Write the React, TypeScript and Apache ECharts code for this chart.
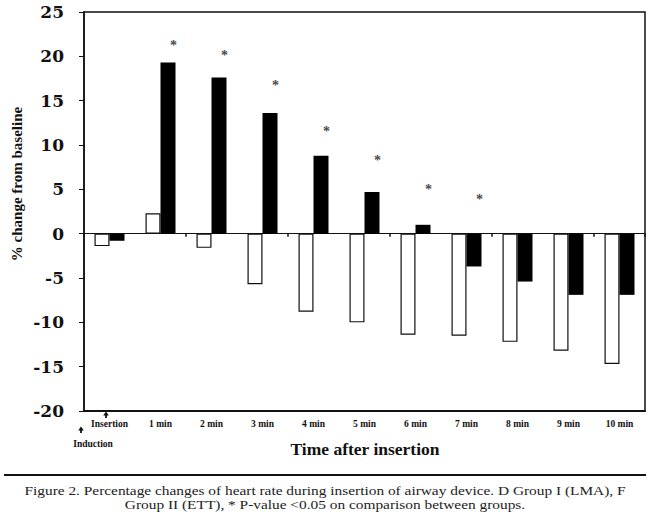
import React, { useEffect, useRef } from "react";
import * as echarts from "echarts";

const categories = ["Insertion", "1 min", "2 min", "3 min", "4 min", "5 min", "6 min", "7 min", "8 min", "9 min", "10 min"];
const groupI = [-1.4, 2.3, -1.6, -5.7, -8.8, -10.0, -11.4, -11.5, -12.2, -13.2, -14.7];
const groupII = [-0.8, 19.3, 17.6, 13.6, 8.8, 4.7, 1.0, -3.7, -5.4, -6.9, -6.9];
const asteriskHeights = [null, 21.3, 20.2, 16.8, 11.6, 8.4, 5.1, 4.0, null, null, null];
const captionLines = [
  "Figure 2. Percentage changes of heart rate during insertion of airway device. D Group I (LMA), F",
  "Group II (ETT), * P-value <0.05 on comparison between groups.",
];

const SERIF = "'Liberation Serif', 'Times New Roman', serif";

function arrow(x: number, yTop: number, len: number) {
  return [
    { type: "line", shape: { x1: x, y1: yTop + 2, x2: x, y2: yTop + len }, style: { stroke: "#111", lineWidth: 1.8 } },
    { type: "polygon", shape: { points: [[x - 2.8, yTop + 3.5], [x + 2.8, yTop + 3.5], [x, yTop - 0.5]] }, style: { fill: "#111" } },
  ];
}

export default function App() {
  const ref = useRef<HTMLDivElement>(null);
  useEffect(() => {
    document.body.style.margin = "0";
    const chart = echarts.init(ref.current!, null, { renderer: "svg" });
    chart.setOption({
      animation: false,
      backgroundColor: "#fff",
      grid: { left: 84, right: 5, top: 12, bottom: 109, show: true, borderColor: "#111", borderWidth: 1.5, backgroundColor: "transparent" },
      xAxis: [
        {
          type: "category",
          data: categories,
          position: "bottom",
          axisLine: { onZero: false, lineStyle: { color: "#111", width: 2 } },
          axisTick: { show: false },
          axisLabel: { interval: 0, margin: 8, fontFamily: SERIF, fontWeight: "bold", fontSize: 9.5, color: "#111" },
        },
        {
          type: "category",
          data: categories,
          position: "bottom",
          axisLine: { onZero: true, lineStyle: { color: "#111", width: 1 } },
          axisTick: { show: true, length: 3, lineStyle: { color: "#111", width: 1.5 } },
          axisLabel: { show: false },
        },
      ],
      yAxis: {
        type: "value",
        min: -20,
        max: 25,
        interval: 5,
        splitLine: { show: false },
        axisLine: { show: true, lineStyle: { color: "#111", width: 1.5 } },
        axisTick: { show: true, length: 5, lineStyle: { color: "#111" } },
        axisLabel: { margin: 20, fontFamily: "'DejaVu Serif', serif", fontWeight: "bold", fontSize: 17, color: "#111" },
      },
      series: [
        {
          name: "Group I (LMA)",
          type: "bar",
          data: groupI,
          barWidth: 15,
          barGap: "0%",
          itemStyle: { color: "#fff", borderColor: "#111", borderWidth: 1.2 },
        },
        {
          name: "Group II (ETT)",
          type: "bar",
          data: groupII,
          barWidth: 15,
          barGap: "0%",
          itemStyle: { color: "#000" },
        },
        {
          name: "P<0.05",
          type: "scatter",
          data: asteriskHeights,
          symbolSize: 1,
          itemStyle: { color: "transparent" },
          label: {
            show: true,
            position: "inside",
            formatter: "*",
            offset: [13, 1],
            fontFamily: SERIF,
            fontWeight: "bold",
            fontSize: 14,
            color: "#111",
          },
        },
      ],
      graphic: [
        {
          type: "text",
          x: 17,
          y: 184,
          rotation: Math.PI / 2,
          style: { text: "% change from baseline", font: `bold 15px ${SERIF}`, fill: "#111", align: "center", verticalAlign: "middle" },
        },
        {
          type: "text",
          x: 365,
          y: 449,
          style: { text: "Time after insertion", font: `bold 17.5px ${SERIF}`, fill: "#111", align: "center", verticalAlign: "middle" },
        },
        {
          type: "text",
          x: 93,
          y: 444,
          style: { text: "Induction", font: `bold 9.5px ${SERIF}`, fill: "#111", align: "center", verticalAlign: "middle" },
        },
        ...arrow(106, 412, 6),
        ...arrow(81, 427, 6),
        { type: "line", shape: { x1: 4, y1: 475, x2: 646, y2: 475 }, style: { stroke: "#111", lineWidth: 2 } },
        {
          type: "text",
          x: 325,
          y: 491,
          scaleX: 1.23,
          style: { text: captionLines[0], font: `12.5px ${SERIF}`, fill: "#222", align: "center", verticalAlign: "middle" },
        },
        {
          type: "text",
          x: 325,
          y: 505,
          scaleX: 1.23,
          style: { text: captionLines[1], font: `12.5px ${SERIF}`, fill: "#222", align: "center", verticalAlign: "middle" },
        },
      ],
    });
    return () => chart.dispose();
  }, []);
  return <div ref={ref} style={{ width: 650, height: 520 }} />;
}
